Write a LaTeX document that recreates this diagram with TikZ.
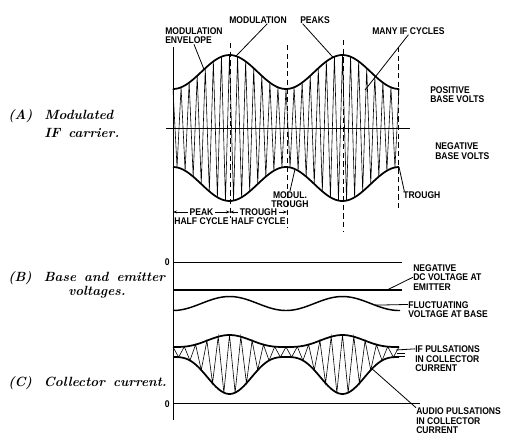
\documentclass[tikz,border=0pt]{standalone}
\usepackage{fontspec}
\newfontfamily\lblfont[FakeStretch=0.88]{Liberation Sans}
\usetikzlibrary{calc,arrows.meta}

\tikzset{
    declare function={
        envA(\t)=56-17*cos((\t-173)*3.18584);
        fC(\t)=max(0.0001,(1-cos((\t-173)*3.18584))/2);
        bumpC(\t)=fC(\t)*sqrt(fC(\t));
    },
    env/.style={line width=1.3pt, line join=round},
    carrier/.style={line width=0.45pt},
    axis/.style={line width=0.6pt},
    dashline/.style={line width=0.7pt, dash pattern=on 4pt off 2.5pt},
    leader/.style={line width=0.6pt},
    dim/.style={line width=0.5pt, {Stealth[length=3pt,width=2.2pt]}-{Stealth[length=3pt,width=2.2pt]}},
    lbl/.style={font=\lblfont\bfseries\fontsize{7.3}{7.2}\selectfont, inner sep=0pt, align=left},
    panelcap/.style={font=\bfseries\itshape, inner sep=0pt},
}

\begin{document}
\begin{tikzpicture}[x=0.75pt, y=-0.75pt]
    \def\xs{173}  % left end of the time axis
    \def\xe{399}  % right end of the waves
    \useasboundingbox (0,0) rectangle (506,440);

    % Coordinates of the half cycle marks
    \coordinate (T0) at (\xs,212);
    \coordinate (T1) at (230,212);
    \coordinate (T2) at (287,212);

    % Draw the axes
    \draw[axis] (\xs,47) -- (\xs,420);
    \draw[axis] (166,128) -- (410,128);

    % Draw the IF carrier and its envelope (A)
    \draw[carrier] plot[samples at={0,...,56}] ({\xs+\x*113/28},{128-cos(180*\x)*envA(\xs+\x*113/28)});
    \draw[env] plot[domain=\xs:\xe,samples=90] (\x,{128-envA(\x)});
    \draw[env] plot[domain=\xs:\xe,samples=90] (\x,{128+envA(\x)});

    % Draw the dashed peak and trough lines
    \draw[dashline] (230,43) -- (230,218);
    \draw[dashline] (287,45) -- (287,228);
    \draw[dashline] (343,40) -- (343,232);
    \draw[dashline] (398,47) -- (398,210);

    % Labels of (A)
    \node[lbl, anchor=west] (envlbl) at (165,35.75) {MODULATION\\ENVELOPE};
    \coordinate (envpt) at (204,{128-envA(204)});
    \draw[leader] (envlbl.south) -- (envpt);

    \node[lbl, anchor=west] (modlbl) at (229,20) {MODULATION};
    \node[lbl, anchor=west] (pklbl) at (300,20) {PEAKS};
    \coordinate (pk1) at (236,{128-envA(236)});
    \coordinate (pk2) at (333,{128-envA(333)});
    \draw[leader] ([xshift=7pt]modlbl.south) -- (pk1);
    \draw[leader] ([xshift=2pt]pklbl.south west) -- (pk2);

    \node[lbl, anchor=west] (manylbl) at (372,31) {MANY IF CYCLES};
    \coordinate (ifpt) at (365,90);
    \draw[leader] (manylbl.south) -- (ifpt);

    \node[lbl, anchor=west] (poslbl) at (430,94.5) {POSITIVE\\BASE VOLTS};
    \node[lbl, anchor=west] (neglbl) at (435,151) {NEGATIVE\\BASE VOLTS};

    \node[lbl, anchor=west] (trlbl) at (403,195) {TROUGH};
    \coordinate (trpt) at (\xe,{128+envA(\xe)});
    \draw[leader] (trpt) -- ([xshift=1pt]trlbl.north west);

    \node[lbl, align=center] (mtlbl) at (290,199.5) {MODUL.\\TROUGH};
    \coordinate (mtpt) at (295,{128+envA(295)});
    \draw[leader] (mtlbl.north) -- (mtpt);

    % Draw half cycles
    \draw[dim] (T0) -- (T1);
    \draw[dim] (T1) -- (T2);
    \node[lbl, fill=white, inner xsep=1.5pt, inner ysep=0.5pt] (peaklbl) at ($(T0)!0.5!(T1)$) {PEAK};
    \node[lbl, fill=white, inner xsep=1.5pt, inner ysep=0.5pt] (troughlbl) at ($(T1)!0.5!(T2)$) {TROUGH};
    \node[lbl] (hc1) at ($(T0)!0.5!(T1)+(0,9)$) {HALF CYCLE};
    \node[lbl] (hc2) at ($(T1)!0.5!(T2)+(0,9)$) {HALF CYCLE};

    % Draw base and emitter voltages (B)
    \draw[axis] (\xs,262) -- (402,262);
    \draw[line width=1pt] (\xs,290) -- (402,290);
    \draw[env, line width=1.1pt] plot[domain=\xs:400,samples=90] (\x,{303.5+7*cos((\x-\xs)*3.18584)});

    \node[lbl, anchor=east] (zeroB) at (170,262) {0};
    \node[lbl, anchor=west] (dclbl) at (413,277.2) {NEGATIVE\\DC VOLTAGE AT\\EMITTER};
    \coordinate (dcpt) at (387,290);
    \draw[leader] (dclbl.west) -- (dcpt);
    \node[lbl, anchor=west] (flulbl) at (408,309.5) {FLUCTUATING\\VOLTAGE AT BASE};
    \coordinate (flupt) at (375,{303.5+7*cos((375-173)*3.18584)});
    \draw[leader] (flupt) -- ([yshift=-2.6pt]flulbl.north west);

    % Draw collector current (C)
    \draw[carrier] plot[samples at={0,...,40}] ({\xs+\x*113/20},{352+12.5*bumpC(\xs+\x*113/20)-cos(180*\x)*(5+24.5*bumpC(\xs+\x*113/20))});
    \draw[env] plot[domain=\xs:\xe,samples=90] (\x,{347-12*bumpC(\x)});
    \draw[env] plot[domain=\xs:\xe,samples=90] (\x,{357+37*bumpC(\x)});
    \draw[axis] (\xs,403) -- (420,403);

    \node[lbl, anchor=east] (zeroC) at (170,404) {0};
    \node[lbl, anchor=west] (ifplbl) at (415,358.7) {IF PULSATIONS\\IN COLLECTOR\\CURRENT};
    \coordinate (ifend) at (396,350);
    \draw[leader] (ifend) -- ([yshift=-2.6pt]ifplbl.north west);
    \draw[leader] (397,353.5) -- (405,353.5);
    \draw[leader] (397,356.5) -- (405,356.5);
    \node[lbl, anchor=west] (audlbl) at (416,421) {AUDIO PULSATIONS\\IN COLLECTOR\\CURRENT};
    \coordinate (audpt) at (372,{357+37*bumpC(372)});
    \draw[leader] (audpt) -- (audlbl.north west);

    % Panel captions
    \node[panelcap, anchor=base west] (capA) at (8,119) {\begin{tabular}[t]{@{}l@{\hspace{9pt}}l@{}}(A) & Modulated\\[1.5pt] & IF\hspace{6pt}carrier.\end{tabular}};
    \node[panelcap, anchor=base west] (capB) at (8,281) {\begin{tabular}[t]{@{}l@{}}(B)\hspace{9pt}Base\hspace{6pt}and\hspace{6pt}emitter\\[-1pt]\hspace*{45pt}voltages.\end{tabular}};
    \node[panelcap, anchor=base west] (capC) at (8,386) {(C)\hspace{9pt}Collector\hspace{6pt}current.};
\end{tikzpicture}
\end{document}
